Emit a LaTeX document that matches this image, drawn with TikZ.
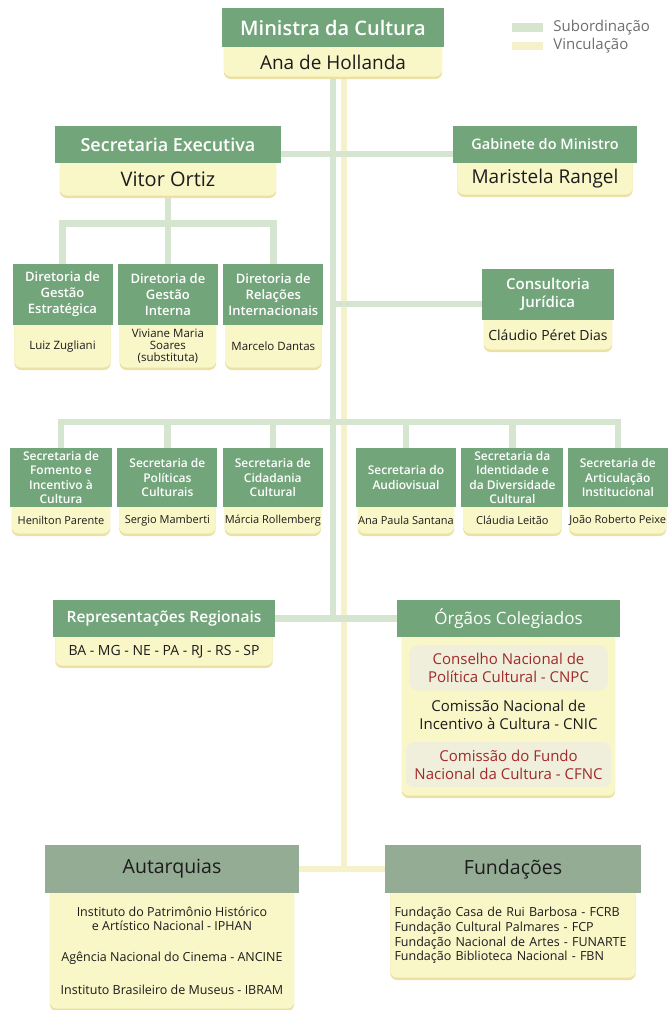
\documentclass[tikz,border=0pt]{standalone}
\usepackage{fontspec}
\setmainfont{Open Sans}[BoldFont={Open Sans Semibold}]
\usetikzlibrary{positioning,backgrounds}

\definecolor{hgreen}{RGB}{115,165,123}
\definecolor{agreen}{RGB}{148,171,148}
\definecolor{pfill}{RGB}{249,246,200}
\definecolor{pshade}{RGB}{236,225,165}
\definecolor{lsub}{RGB}{213,229,208}
\definecolor{lvin}{RGB}{245,241,203}
\definecolor{cfill}{RGB}{240,239,219}
\definecolor{cred}{RGB}{160,42,42}
\definecolor{ink}{RGB}{28,28,28}
\definecolor{keytext}{RGB}{110,110,110}

\newcommand{\fsz}[2]{\fontsize{#1}{#2}\selectfont}

\tikzset{
	head/.style={fill=hgreen, text=white, align=center, inner sep=0pt},
	pers/.style={text=ink, align=center, inner sep=0pt},
	sub/.style={draw=lsub, line width=6.5pt},
	vin/.style={draw=lvin, line width=6.5pt},
	conselho/.style={fill=cfill, rounded corners=8pt, text=cred, align=center, inner sep=0pt},
}

\begin{document}
\begin{tikzpicture}[x=1pt,y=-1pt]
			\useasboundingbox (0,0) rectangle (668,1010);

			\node[head, minimum width=222pt, minimum height=39pt, font=\bfseries\fsz{20}{24}] (min) at (333,27.5) {Ministra da Cultura};
			\node[pers, minimum width=218pt, minimum height=29pt, below=0pt of min, font=\fsz{19}{22}] (minN) {Ana de Hollanda};

			\node[fill=lsub, minimum width=31pt, minimum height=9pt, inner sep=0pt] (ksub) at (527.5,27.5) {};
			\node[fill=lvin, minimum width=31pt, minimum height=8pt, inner sep=0pt] (kvin) at (527.5,45.5) {};
			\node[right=10pt of ksub, inner sep=0pt, text=keytext, font=\fsz{15}{18}] (ksubT) {Subordinação};
			\node[right=10pt of kvin, inner sep=0pt, text=keytext, font=\fsz{15}{18}] (kvinT) {Vinculação};

			\node[head, minimum width=226pt, minimum height=37pt, font=\bfseries\fsz{18}{22}] (sec) at (168,144.5) {Secretaria Executiva};
			\node[pers, minimum width=216pt, minimum height=32pt, below=0pt of sec, font=\fsz{20}{24}] (secN) {Vitor Ortiz};
			\node[head, minimum width=184pt, minimum height=37pt, font=\bfseries\fsz{14.5}{18}] (gab) at (545,144.5) {Gabinete do Ministro};
			\node[pers, minimum width=175pt, minimum height=31pt, below=0pt of gab, font=\fsz{19}{22}] (gabN) {Maristela Rangel};

			% diretorias
			\node[head, minimum width=100pt, minimum height=61pt, font=\bfseries\fsz{13}{16}] (d1) at (62.5,294.5) {Diretoria de\\Gestão\\Estratégica};
			\node[head, minimum width=100pt, minimum height=61pt, font=\bfseries\fsz{13}{16}, right=5pt of d1] (d2) {Diretoria de\\Gestão\\Interna};
			\node[head, minimum width=100pt, minimum height=61pt, font=\bfseries\fsz{13}{16}, right=5pt of d2] (d3) {Diretoria de\\Relações\\Internacionais};
			\node[pers, minimum width=96pt, minimum height=42pt, below=0pt of d1, font=\fsz{11.5}{12}] (d1N) {Luiz Zugliani};
			\node[pers, minimum width=96pt, minimum height=42pt, below=0pt of d2, font=\fsz{11.5}{12}] (d2N) {Viviane Maria\\Soares\\(substituta)};
			\node[pers, minimum width=96pt, minimum height=42pt, below=0pt of d3, font=\fsz{11.5}{12}] (d3N) {Marcelo Dantas};

			\node[head, minimum width=132pt, minimum height=51pt, font=\bfseries\fsz{15}{18}] (cons) at (548,294.5) {Consultoria\\Jurídica};
			\node[pers, minimum width=128pt, minimum height=29pt, below=0pt of cons, font=\fsz{14}{17}] (consN) {Cláudio Péret Dias};

			% secretarias
			\node[head, minimum width=102pt, minimum height=59pt, font=\bfseries\fsz{12}{14.5}] (s1) at (61,477.5) {Secretaria de\\Fomento e\\Incentivo à\\Cultura};
			\node[head, minimum width=100pt, minimum height=59pt, font=\bfseries\fsz{12}{14.5}, right=5pt of s1] (s2) {Secretaria de\\Políticas\\Culturais};
			\node[head, minimum width=100pt, minimum height=59pt, font=\bfseries\fsz{12}{14.5}, right=5pt of s2] (s3) {Secretaria de\\Cidadania\\Cultural};
			\node[head, minimum width=100pt, minimum height=59pt, font=\bfseries\fsz{12}{14.5}] (s4) at (406,477.5) {Secretaria do\\Audiovisual};
			\node[head, minimum width=102pt, minimum height=59pt, font=\bfseries\fsz{12}{14.5}, right=5pt of s4] (s5) {Secretaria da\\Identidade e\\da Diversidade\\Cultural};
			\node[head, minimum width=100pt, minimum height=59pt, font=\bfseries\fsz{12}{14.5}, right=4pt of s5] (s6) {Secretaria de\\Articulação\\Institucional};
			\node[pers, minimum width=98pt, minimum height=26pt, below=0pt of s1, font=\fsz{11}{13}] (s1N) {Henilton Parente};
			\node[pers, minimum width=96pt, minimum height=26pt, below=0pt of s2, font=\fsz{11}{13}] (s2N) {Sergio Mamberti};
			\node[pers, minimum width=96pt, minimum height=26pt, below=0pt of s3, font=\fsz{11}{13}] (s3N) {Márcia Rollemberg};
			\node[pers, minimum width=96pt, minimum height=26pt, below=0pt of s4, font=\fsz{11}{13}] (s4N) {Ana Paula Santana};
			\node[pers, minimum width=98pt, minimum height=26pt, below=0pt of s5, font=\fsz{11}{13}] (s5N) {Cláudia Leitão};
			\node[pers, minimum width=96pt, minimum height=26pt, below=0pt of s6, font=\fsz{11}{13}] (s6N) {João Roberto Peixe};

			\node[head, minimum width=222pt, minimum height=37pt, font=\bfseries\fsz{15.5}{19}] (rep) at (164,618.5) {Representações Regionais};
			\node[pers, minimum width=217pt, minimum height=28pt, below=0pt of rep, font=\fsz{14}{17}] (repN) {BA - MG - NE - PA - RJ - RS - SP};
			\node[head, minimum width=223pt, minimum height=37pt, font=\fsz{17}{20}] (org) at (508.5,618.5) {Órgãos Colegiados};
			\node[pers, minimum width=213pt, minimum height=158pt, below=0pt of org] (orgN) {};
			\node[conselho, minimum width=198pt, minimum height=45pt, below=8pt of orgN.north, font=\fsz{15}{18.5}] (cnpc) {Conselho Nacional de\\Política Cultural - CNPC};
			\node[pers, minimum height=48pt, below=0pt of cnpc, font=\fsz{15}{18.5}] (cnic) {Comissão Nacional de\\Incentivo à Cultura - CNIC};
			\node[conselho, minimum width=205pt, minimum height=45pt, below=3pt of cnic, font=\fsz{15}{18.5}] (cfnc) {Comissão do Fundo\\Nacional da Cultura - CFNC};

			\node[head, fill=agreen, text=ink, minimum width=254pt, minimum height=48pt, font=\fsz{19.5}{23}] (aut) at (172,869) {Autarquias};
			\node[pers, minimum width=244pt, minimum height=115pt, below=0pt of aut, font=\fsz{12.5}{14}] (autN) {Instituto do Patrimônio Histórico\\e Artístico Nacional - IPHAN\\[17pt]Agência Nacional do Cinema - ANCINE\\[19pt]Instituto Brasileiro de Museus - IBRAM};
			\node[head, fill=agreen, text=ink, minimum width=256pt, minimum height=48pt, font=\fsz{19.5}{23}] (fun) at (513,869) {Fundações};
			\node[pers, align=left, text width=237pt, inner xsep=4pt, minimum height=84pt, below=0pt of fun, font=\fsz{12.5}{14.7}] (funN) {Fundação Casa de Rui Barbosa - FCRB\\Fundação Cultural Palmares - FCP\\Fundação Nacional de Artes - FUNARTE\\Fundação Biblioteca Nacional - FBN};

			\begin{scope}[on background layer]
				\draw[vin] ([xshift=11pt]minN.south) -- ([xshift=11pt]minN.south |- aut.east);
				\draw[vin] (aut.east) -- (fun.west);
				\draw[sub] (minN.south) -- (minN.south |- rep.east);
				\draw[sub] ([yshift=-9.5pt]sec.east) -- ([yshift=-9.5pt]gab.west);
				\draw[sub] ([yshift=-9.5pt]cons.west) -- ([yshift=-9.5pt]cons.west -| min);
				\draw[sub] (secN.south) -- ++(0,28) coordinate (dbar);
				\draw[sub] (d1.north) |- (dbar) -| (d3.north);
				\draw[sub] (d2.north) -- (d2.north |- dbar);
				\draw[sub] (s1.north) -- ++(0,-26) coordinate (sbar) -| (s6.north);
				\foreach \s in {s2,s3,s4,s5}
					\draw[sub] (\s.north) -- (\s.north |- sbar);
				\draw[sub] (rep.east) -- (org.west);
				\foreach \n in {minN,secN,gabN,d1N,d2N,d3N,consN,s1N,s2N,s3N,s4N,s5N,s6N,repN,orgN,autN,funN}{
					\fill[pshade, rounded corners=7pt] ([yshift=10pt]\n.north west) rectangle ([yshift=-2.5pt]\n.south east);
					\fill[pfill, rounded corners=7pt] ([yshift=10pt]\n.north west) rectangle (\n.south east);
				}
			\end{scope}
	\end{tikzpicture}
\end{document}
